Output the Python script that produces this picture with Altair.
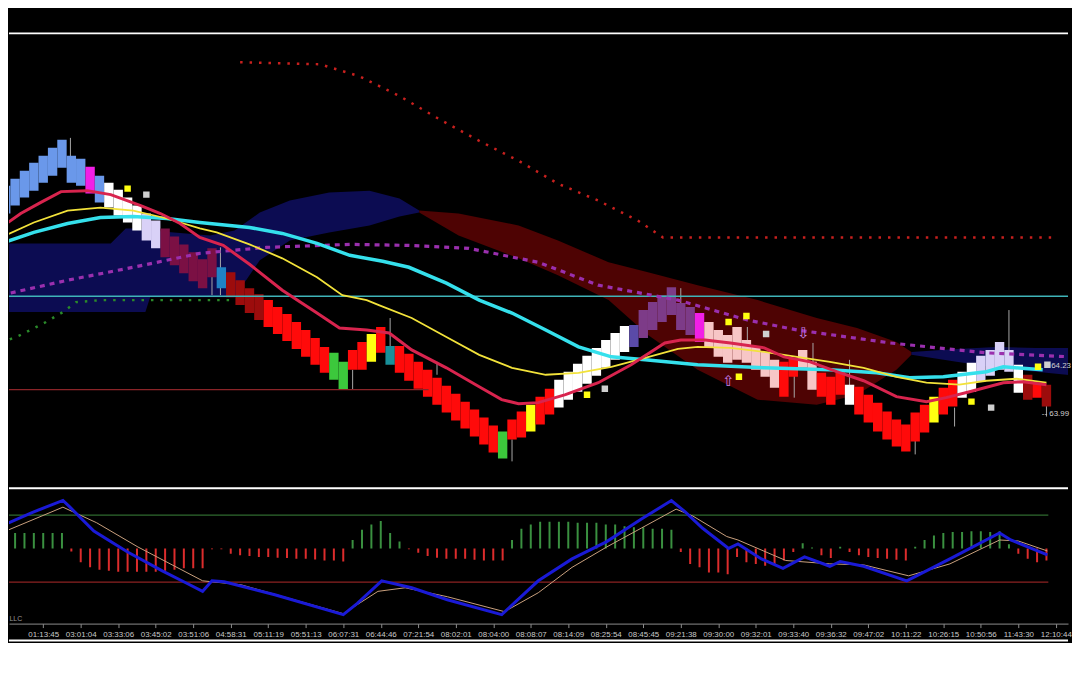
import altair as alt
import pandas as pd

# ---------------- Renko bricks (price high / low per brick) ----------------
brick_hi = [65.135, 65.17, 65.21, 65.25, 65.285, 65.325, 65.365, 65.285, 65.27, 65.23,
            65.185, 65.15, 65.115, 65.075, 65.035, 64.995, 64.96, 64.92, 64.88, 64.84,
            64.80, 64.765, 64.82, 64.725, 64.70, 64.66, 64.62, 64.59, 64.56, 64.525,
            64.49, 64.45, 64.41, 64.37, 64.325, 64.295, 64.25, 64.31, 64.35, 64.39,
            64.425, 64.33, 64.33, 64.29, 64.25, 64.21, 64.17, 64.13, 64.09, 64.05,
            64.01, 63.97, 63.93, 63.90, 63.96, 64.00, 64.035, 64.075, 64.115, 64.16,
            64.20, 64.24, 64.28, 64.32, 64.36, 64.395, 64.43, 64.435, 64.51, 64.55,
            64.585, 64.625, 64.545, 64.525, 64.495, 64.45, 64.41, 64.385, 64.425, 64.36,
            64.325, 64.30, 64.26, 64.25, 64.27, 64.31, 64.25, 64.195, 64.175, 64.21,
            64.135, 64.125, 64.085, 64.045, 64.00, 63.96, 63.935, 63.995, 64.035, 64.075,
            64.12, 64.16, 64.20, 64.245, 64.28, 64.31, 64.35, 64.31, 64.235, 64.185,
            64.145, 64.135]
brick_lo = [64.995, 65.035, 65.075, 65.11, 65.15, 65.185, 65.225, 65.15, 65.135, 65.095,
            65.05, 65.025, 64.985, 64.95, 64.91, 64.86, 64.82, 64.775, 64.735, 64.695,
            64.655, 64.62, 64.675, 64.62, 64.575, 64.535, 64.495, 64.46, 64.425, 64.39,
            64.355, 64.315, 64.275, 64.235, 64.195, 64.16, 64.11, 64.21, 64.21, 64.25,
            64.295, 64.235, 64.195, 64.155, 64.115, 64.075, 64.035, 63.995, 63.955, 63.915,
            63.875, 63.835, 63.795, 63.765, 63.86, 63.87, 63.90, 63.935, 63.985, 64.02,
            64.06, 64.10, 64.14, 64.18, 64.22, 64.26, 64.30, 64.325, 64.37, 64.41,
            64.45, 64.485, 64.41, 64.385, 64.35, 64.32, 64.275, 64.245, 64.26, 64.245,
            64.21, 64.175, 64.12, 64.075, 64.175, 64.22, 64.11, 64.075, 64.035, 64.085,
            64.035, 63.985, 63.945, 63.90, 63.86, 63.825, 63.80, 63.85, 63.895, 63.945,
            63.985, 64.025, 64.07, 64.10, 64.15, 64.18, 64.21, 64.20, 64.095, 64.06,
            64.07, 64.025]
brick_kind = (["blue"] * 9 + ["magenta", "blue"] + ["white"] * 4 + ["lavender"] * 2
              + ["maroon"] * 6 + ["steel"] + ["darkred"] * 4 + ["red"] * 7 + ["green"] * 2
              + ["red"] * 2 + ["yellow", "red", "teal"] + ["red"] * 11 + ["green"]
              + ["red"] * 2 + ["yellow"] + ["red"] * 2 + ["white"] * 8 + ["indigo"]
              + ["purple"] * 6 + ["magenta"] + ["pink"] * 8 + ["red"] * 2 + ["pink"] * 2
              + ["red"] * 3 + ["white"] + ["red"] * 8 + ["yellow"] + ["red"] * 2
              + ["white"] * 2 + ["lavender"] * 4 + ["white", "darkred", "red", "darkred"])
palette = {"blue": "#6a98ea", "magenta": "#f21fe6", "white": "#ffffff", "lavender": "#d9d1f7",
           "maroon": "#7b1044", "steel": "#1f83c6", "darkred": "#9c0c0c", "red": "#ff0a0a",
           "green": "#3cc83c", "yellow": "#ffff10", "teal": "#19909a", "indigo": "#5a4aa8",
           "purple": "#7d3b88", "pink": "#f7c6c6", "gray": "#cfcfcf",
           "bull": "#0c0c52", "bear": "#4e0303", "up": "#3a9040", "down": "#dc2c2c",
           "upper": "#2f6a2f", "lower": "#8c2222"}

# ---------------- Wicks ----------------
wick_idx = [7.4, 22.5, 23.4, 37.5, 41.5, 46.5, 54.5, 72.5, 79.6, 84.6, 86.6, 90.5, 97.5, 101.7, 107.5, 111.5]
wick_hi = [65.375, 64.72, 64.825, 64.21, 64.47, 64.25, 63.86, 64.62, 64.425, 64.225, 64.345, 64.26, 63.895, 64.02, 64.51, 64.05]
wick_lo = [65.27, 64.585, 64.585, 64.11, 64.325, 64.185, 63.75, 64.545, 64.26, 64.07, 64.225, 64.125, 63.785, 63.925, 64.285, 63.975]

# ---------------- Cloud ----------------
bull_idx = [0, 11.7, 13.3, 15.4, 15.9, 22.3, 24.9, 27.6, 30.8, 35.0, 39.3, 42.5, 44.6]
bull_top = [64.845, 64.845, 64.92, 64.92, 64.91, 64.885, 64.91, 65.0, 65.06, 65.10, 65.11, 65.07, 65.01]
bull_bot = [64.50, 64.50, 64.50, 64.50, 64.575, 64.575, 64.575, 64.76, 64.86, 64.90, 64.935, 64.98, 65.0]
bear_idx = [44.6, 48.8, 55.2, 59.4, 64.8, 69.0, 74.3, 80.7, 87.0, 91.3, 95.5, 97.1]
bear_top = [65.01, 64.995, 64.935, 64.86, 64.75, 64.70, 64.635, 64.56, 64.47, 64.42, 64.35, 64.30]
bear_bot = [65.0, 64.885, 64.77, 64.685, 64.56, 64.385, 64.21, 64.06, 64.035, 64.085, 64.21, 64.285]
bull2_idx = [97.1, 101.9, 106.2, 110.4, 114.6]
bull2_top = [64.30, 64.315, 64.325, 64.32, 64.32]
bull2_bot = [64.285, 64.25, 64.22, 64.20, 64.18]

# ---------------- Moving averages ----------------
fast_idx = [0, 2.1, 4.2, 6.4, 9.2, 11.7, 14.9, 17.0, 19.1, 21.2, 23.7, 26.5, 30.0, 33.7, 36.1,
            39.0, 41.4, 43.8, 47.5, 51.0, 53.4, 55.2, 57.3, 60.2, 63.7, 67.2, 70.8, 72.5, 75.1,
            77.8, 81.4, 83.5, 86.3, 89.2, 92.0, 95.5, 98.7, 100.8, 103.3, 106.9, 109.0, 111.5]
fast_val = [64.925, 64.995, 65.05, 65.105, 65.11, 65.09, 65.035, 64.995, 64.945, 64.875, 64.835,
            64.74, 64.61, 64.495, 64.42, 64.41, 64.395, 64.31, 64.22, 64.125, 64.06, 64.04,
            64.045, 64.085, 64.145, 64.235, 64.345, 64.36, 64.36, 64.345, 64.32, 64.275, 64.25,
            64.20, 64.155, 64.075, 64.05, 64.07, 64.10, 64.145, 64.15, 64.135]
mid_idx = [0, 3.5, 7.1, 10.6, 14.1, 17.7, 21.2, 23.0, 26.5, 30.0, 33.7, 36.4, 39.0, 40.3, 43.8,
           47.5, 51.0, 54.5, 58.1, 61.6, 65.1, 68.7, 72.2, 74.3, 77.8, 81.4, 84.9, 88.4, 92.0,
           95.5, 98.7, 102.2, 105.1, 108.3, 111.5]
mid_val = [64.875, 64.95, 65.01, 65.025, 65.01, 64.97, 64.92, 64.90, 64.84, 64.77, 64.675, 64.585,
           64.56, 64.535, 64.47, 64.375, 64.285, 64.22, 64.185, 64.195, 64.225, 64.27, 64.315,
           64.325, 64.32, 64.30, 64.275, 64.25, 64.22, 64.175, 64.145, 64.135, 64.155, 64.165, 64.145]
slow_idx = [0, 3.5, 7.1, 10.6, 14.1, 17.7, 21.2, 26.5, 30.0, 33.7, 37.2, 40.7, 43.5, 47.5, 51.0,
            54.5, 58.1, 61.6, 65.1, 68.7, 74.3, 81.4, 88.4, 93.4, 96.9, 100.5, 105.1, 106.9, 111.1]
slow_val = [64.845, 64.90, 64.945, 64.975, 64.98, 64.97, 64.95, 64.925, 64.895, 64.845, 64.785,
            64.755, 64.725, 64.645, 64.56, 64.495, 64.41, 64.325, 64.275, 64.26, 64.235, 64.22,
            64.21, 64.195, 64.17, 64.175, 64.20, 64.225, 64.21]
pdot_idx = [0, 7.1, 14.1, 21.2, 28.3, 37.2, 43.5, 49.9, 57.3, 63.7, 72.2, 79.6, 84.9, 94.8, 105.1, 114.1]
pdot_val = [64.585, 64.66, 64.725, 64.795, 64.825, 64.84, 64.835, 64.82, 64.75, 64.635, 64.56,
            64.46, 64.41, 64.345, 64.295, 64.275]
rdot_idx = [25.5, 34.0, 38.2, 42.5, 46.7, 51.0, 55.2, 59.4, 63.7, 67.9, 70.6, 112.0]
rdot_val = [65.755, 65.745, 65.685, 65.585, 65.47, 65.36, 65.26, 65.145, 65.06, 64.96, 64.875, 64.875]
gdot_idx = [0, 2.1, 4.8, 6.6, 8.0, 10.6, 24.9]
gdot_val = [64.345, 64.385, 64.45, 64.50, 64.55, 64.56, 64.56]

# ---------------- Reference levels ----------------
frame_level = 65.90
teal_level = 64.58
support_level = 64.11
support_end = 45.6

# ---------------- Signals ----------------
sq_idx = [13.5, 15.5, 62.5, 64.4, 77.6, 79.5, 81.6, 78.7, 103.5, 105.6, 110.6, 111.6]
sq_val = [65.12, 65.09, 64.085, 64.115, 64.45, 64.48, 64.39, 64.175, 64.05, 64.02, 64.225, 64.235]
sq_kind = ["yellow", "gray", "yellow", "gray", "yellow", "yellow", "gray", "yellow", "yellow", "gray", "yellow", "gray"]
arrow_idx = [77.6, 85.6]
arrow_val = [64.155, 64.395]
arrow_sym = ["⇧", "⇩"]
tag_idx = [112.0, 111.0]
tag_val = [64.23, 63.99]
tag_text = ["64.23", "-- 63.99"]

# ---------------- Oscillator ----------------
hist_val = [1.5, 1.55, 1.55, 1.55, 1.55, 1.55, 1.55, -0.3,
            -1.38, -1.9, -2.14, -2.24, -2.35, -2.35, -2.35, -2.35, -2.35, -2.24, -2.14, -2.0, -2.0, -2.0,
            -0.08, -0.08,
            -0.52, -0.69, -0.76, -0.86, -0.86, -0.93, -0.97, -1.04, -1.04, -1.11, -1.21, -1.21, -1.31,
            0.86, 1.89, 2.41, 2.75, 1.55, 0.69, -0.08,
            -0.42, -0.76, -0.93, -1.04, -1.04, -1.04, -1.14, -1.21, -1.21, -1.21,
            0.86, 1.99, 2.41,
            2.68, 2.68, 2.68, 2.68, 2.58, 2.58, 2.58, 2.41, 2.41, 2.23, 2.13, 2.13, 1.99, 1.99, 1.89,
            -0.35, -1.55, -1.9, -2.41, -2.41, -2.59, -0.86, -1.38, -1.55, -1.73, -1.55, -1.21, -0.35,
            0.52, 0.1, -0.69, -0.97, 0.17, -0.35, -0.69, -0.86, -0.97, -1.04, -1.14, -1.21,
            0.17, 0.86, 1.3, 1.55, 1.65, 1.65, 1.72, 1.72, 1.65, 1.72, 0.41,
            -0.52, -1.04, -1.38, -1.21]
blue_idx = [0, 3.3, 6.6, 7.3, 9.9, 13.5, 17.2, 19.7, 21.5, 22.5, 23.8, 29.2, 36.5, 38.0, 40.6,
            43.8, 47.6, 53.4, 57.3, 60.9, 64.6, 68.3, 71.5, 73.0, 74.8, 77.6, 78.6, 81.1, 83.4,
            85.7, 88.4, 89.5, 92.0, 96.6, 101.2, 106.5, 107.7, 111.6]
blue_val = [2.25, 3.61, 4.82, 4.2, 1.75, -0.35, -2.25, -3.45, -4.31, -3.25, -3.35, -4.65, -6.65,
            -5.51, -3.25, -3.95, -5.15, -6.65, -3.25, -1.05, 0.69, 2.95, 4.82, 3.65, 2.05, 0,
            0.45, -1.05, -2.0, -0.85, -1.79, -1.31, -1.79, -3.25, -1.05, 1.55, 0.85, -0.65]
tan_idx = [0, 6.6, 10.2, 14.6, 21.5, 25.6, 36.5, 40.2, 43.1, 47.6, 53.7, 57.3, 60.9, 64.6, 68.3,
           72.0, 73.8, 77.4, 78.6, 83.7, 88.4, 92.0, 96.8, 101.2, 106.5, 108.5, 111.6]
tan_val = [1.55, 4.15, 2.58, 0.15, -3.25, -3.65, -6.55, -4.31, -3.95, -4.85, -6.35, -4.45, -1.9,
           0.15, 2.05, 3.95, 3.25, 1.2, 0.85, -1.21, -1.55, -1.65, -2.75, -1.55, 0.85, 0.75, -0.25]
osc_upper = 3.35
osc_lower = -3.38
osc_end = 111.7

time_labels = ["00:43:19", "01:13:45", "03:01:04", "03:33:06", "03:45:02", "03:51:06", "04:58:31",
               "05:11:19", "05:51:13", "06:07:31", "06:44:46", "07:21:54", "08:02:01", "08:04:00",
               "08:08:07", "08:14:09", "08:25:54", "08:45:45", "09:21:38", "09:30:00", "09:32:01",
               "09:33:40", "09:36:32", "09:47:02", "10:11:22", "10:26:15", "10:50:56", "11:43:30",
               "12:10:44"]

# ---------------- Build frames ----------------
n = len(brick_hi)
bricks = pd.DataFrame({"idx": list(range(n)), "idx2": [i + 1 for i in range(n)],
                       "hi": brick_hi, "lo": brick_lo,
                       "col": [palette[k] for k in brick_kind]})
wicks = pd.DataFrame({"idx": wick_idx, "hi": wick_hi, "lo": wick_lo})
cloud = pd.concat([
    pd.DataFrame({"idx": bull_idx, "top": bull_top, "bot": bull_bot, "seg": "bull", "col": palette["bull"]}),
    pd.DataFrame({"idx": bear_idx, "top": bear_top, "bot": bear_bot, "seg": "bear", "col": palette["bear"]}),
    pd.DataFrame({"idx": bull2_idx, "top": bull2_top, "bot": bull2_bot, "seg": "bull2", "col": palette["bull"]}),
])


def ldf(i, v):
    return pd.DataFrame({"idx": i, "val": v})


W = 1064
XDOM = [0.85, 113.8]
xs = alt.Scale(domain=XDOM, nice=False, zero=False)
ysA = alt.Scale(domain=[63.62, 66.02], nice=False, zero=False)
ysB = alt.Scale(domain=[-9.25, 6.05], nice=False, zero=False)
FONT = "Liberation Sans"

tick_vals = [0.5 + 4 * k for k in range(1, len(time_labels))]
label_expr = "[" + ",".join("'" + t + "'" for t in time_labels) + "][round((datum.value - 0.5) / 4)]"
axisB = alt.Axis(values=tick_vals, labelExpr=label_expr, grid=False, domainColor="#8c8c8c",
                 domainWidth=1, tickColor="#8c8c8c", tickSize=4, labelColor="#c8c8c8",
                 labelFont=FONT, labelFontSize=8, labelPadding=3, offset=-17,
                 title=None, labelOverlap=False, labelFlush=False)


def xA(f="idx"):
    return alt.X(f + ":Q", scale=xs, axis=None)


def yA(f="val"):
    return alt.Y(f + ":Q", scale=ysA, axis=None)


def xB(f="idx"):
    return alt.X(f + ":Q", scale=xs, axis=axisB)


def yB(f="val"):
    return alt.Y(f + ":Q", scale=ysB, axis=None)


COL = alt.Color("col:N", scale=None, legend=None)

# ---------------- Main panel ----------------
frame_rule = alt.Chart(pd.DataFrame({"val": [frame_level]})).mark_rule(
    color="white", strokeWidth=2).encode(y=yA())
cloud_layer = alt.Chart(cloud).mark_area(clip=True, opacity=1).encode(
    x=xA(), y=yA("top"), y2="bot", color=COL, detail="seg:N")
wick_layer = alt.Chart(wicks).mark_rule(clip=True, color="#a8a8a8", strokeWidth=1).encode(
    x=xA(), y=yA("hi"), y2="lo")
brick_layer = alt.Chart(bricks).mark_rect(clip=True).encode(
    x=xA(), x2="idx2", y=yA("hi"), y2="lo", color=COL)
teal_rule = alt.Chart(pd.DataFrame({"val": [teal_level]})).mark_rule(
    color="#3fb4b8", strokeWidth=1.5).encode(y=yA())
support_rule = alt.Chart(pd.DataFrame({"idx": [XDOM[0]], "idx2": [support_end], "val": [support_level]})).mark_rule(
    color="#8a2428", strokeWidth=1.2).encode(x=xA(), x2="idx2", y=yA())
gdot = alt.Chart(ldf(gdot_idx, gdot_val)).mark_line(
    clip=True, color="#2a8a2a", strokeWidth=2.5, strokeDash=[2.5, 7]).encode(x=xA(), y=yA())
rdot = alt.Chart(ldf(rdot_idx, rdot_val)).mark_line(
    clip=True, color="#c8201e", strokeWidth=2.5, strokeDash=[2.5, 7]).encode(x=xA(), y=yA())
pdot = alt.Chart(ldf(pdot_idx, pdot_val)).mark_line(
    clip=True, color="#9a2fae", strokeWidth=3.2, strokeDash=[5, 5]).encode(x=xA(), y=yA())
slow = alt.Chart(ldf(slow_idx, slow_val)).mark_line(
    clip=True, color="#35e0ec", strokeWidth=3.5).encode(x=xA(), y=yA())
mid = alt.Chart(ldf(mid_idx, mid_val)).mark_line(
    clip=True, color="#f2e23a", strokeWidth=1.8).encode(x=xA(), y=yA())
fast = alt.Chart(ldf(fast_idx, fast_val)).mark_line(
    clip=True, color="#d8244e", strokeWidth=3).encode(x=xA(), y=yA())
squares = alt.Chart(pd.DataFrame({"idx": sq_idx, "val": sq_val,
                                  "col": [palette[k] for k in sq_kind]})).mark_square(
    clip=True, size=42, opacity=1).encode(x=xA(), y=yA(), color=COL)
arrows = alt.Chart(pd.DataFrame({"idx": arrow_idx, "val": arrow_val, "sym": arrow_sym})).mark_text(
    font="DejaVu Sans", fontSize=15, color="#c47ee6").encode(x=xA(), y=yA(), text="sym:N")
tags = alt.Chart(pd.DataFrame({"idx": tag_idx, "val": tag_val, "txt": tag_text})).mark_text(
    font=FONT, fontSize=8, color="#d0d0d0", align="left", baseline="middle").encode(
    x=xA(), y=yA(), text="txt:N")

panelA = alt.layer(frame_rule, cloud_layer, wick_layer, brick_layer, teal_rule, support_rule,
                   gdot, rdot, pdot, slow, mid, fast, squares, arrows, tags).properties(width=W, height=480)

# ---------------- Oscillator panel ----------------
hist = pd.DataFrame({"idx": [i + 0.5 for i in range(len(hist_val))], "zero": [0.0] * len(hist_val),
                     "val": hist_val,
                     "col": [palette["up"] if v > 0 else palette["down"] for v in hist_val]})
levels = pd.DataFrame({"idx": [XDOM[0], XDOM[0]], "idx2": [osc_end, osc_end],
                       "val": [osc_upper, osc_lower], "col": [palette["upper"], palette["lower"]]})
level_layer = alt.Chart(levels).mark_rule(clip=True, strokeWidth=1.2).encode(
    x=xB(), x2="idx2", y=yB(), color=COL)
hist_layer = alt.Chart(hist).mark_rule(clip=True, strokeWidth=2).encode(
    x=xB(), y=yB("zero"), y2="val", color=COL)
tan_layer = alt.Chart(ldf(tan_idx, tan_val)).mark_line(
    clip=True, color="#caa07e", strokeWidth=1).encode(x=xB(), y=yB())
blue_layer = alt.Chart(ldf(blue_idx, blue_val)).mark_line(
    clip=True, color="#1a1ad6", strokeWidth=3).encode(x=xB(), y=yB())
sep_rules = alt.Chart(pd.DataFrame({"val": [6.05, -9.25]})).mark_rule(
    color="white", strokeWidth=2).encode(y=yB())
llc = alt.Chart(pd.DataFrame({"idx": [0.9], "val": [-7.05], "txt": ["LLC"]})).mark_text(
    font=FONT, fontSize=7, color="#9a9a9a", align="left").encode(
    x=xB(), y=yB(), text="txt:N")

panelB = alt.layer(level_layer, hist_layer, tan_layer, blue_layer, sep_rules, llc).properties(
    width=W, height=153)

chart = alt.vconcat(panelA, panelB, spacing=0).properties(
    padding=0, background="black").configure_view(stroke=None)

chart.save("out.html", embed_options={"renderer": "svg", "actions": False})
